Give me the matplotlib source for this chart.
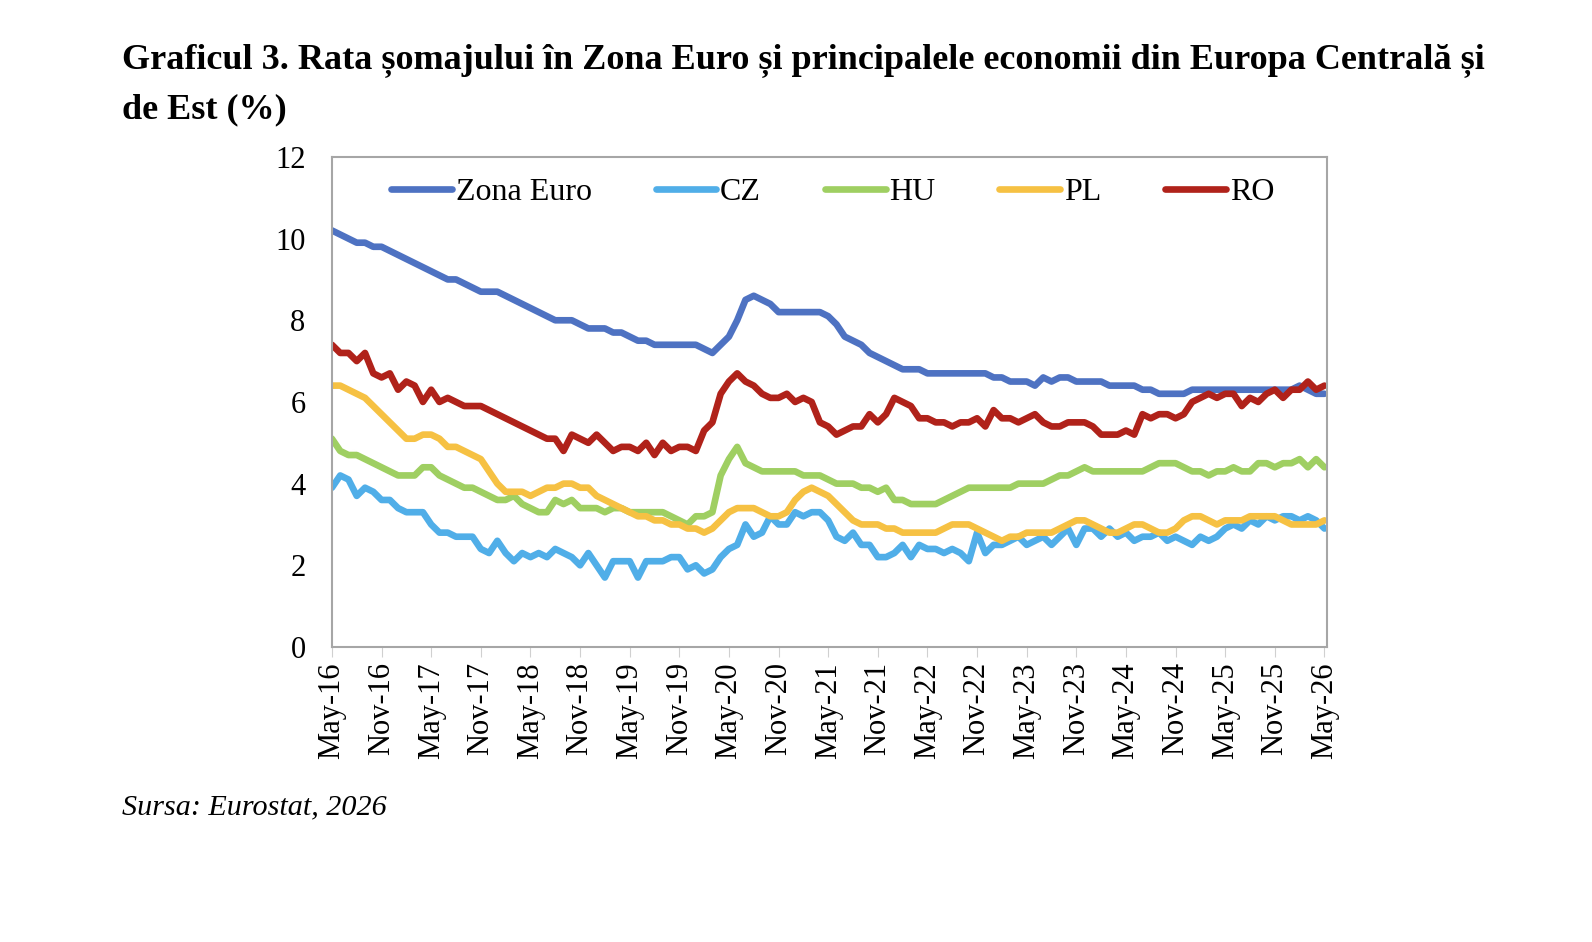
import numpy as np
import pandas as pd
import matplotlib
matplotlib.use("Agg")
import matplotlib.pyplot as plt

plt.rcParams['font.family'] = ['Liberation Serif', 'DejaVu Serif']

# lunar, mai 2016 - mai 2026
luni = pd.date_range('2016-05-01', periods=121, freq='MS').strftime('%b-%y').tolist()

zona_euro = [10.2, 10.1, 10.0, 9.9, 9.9, 9.8, 9.8, 9.7, 9.6, 9.5, 9.4, 9.3, 9.2, 9.1, 9.0, 9.0,
             8.9, 8.8, 8.7, 8.7, 8.7, 8.6, 8.5, 8.4, 8.3, 8.2, 8.1, 8.0, 8.0, 8.0, 7.9, 7.8,
             7.8, 7.8, 7.7, 7.7, 7.6, 7.5, 7.5, 7.4, 7.4, 7.4, 7.4, 7.4, 7.4, 7.3, 7.2, 7.4,
             7.6, 8.0, 8.5, 8.6, 8.5, 8.4, 8.2, 8.2, 8.2, 8.2, 8.2, 8.2, 8.1, 7.9, 7.6, 7.5,
             7.4, 7.2, 7.1, 7.0, 6.9, 6.8, 6.8, 6.8, 6.7, 6.7, 6.7, 6.7, 6.7, 6.7, 6.7, 6.7,
             6.6, 6.6, 6.5, 6.5, 6.5, 6.4, 6.6, 6.5, 6.6, 6.6, 6.5, 6.5, 6.5, 6.5, 6.4, 6.4,
             6.4, 6.4, 6.3, 6.3, 6.2, 6.2, 6.2, 6.2, 6.3, 6.3, 6.3, 6.3, 6.3, 6.3, 6.3, 6.3,
             6.3, 6.3, 6.3, 6.3, 6.3, 6.4, 6.3, 6.2, 6.2]

cz = [3.9, 4.2, 4.1, 3.7, 3.9, 3.8, 3.6, 3.6, 3.4, 3.3, 3.3, 3.3, 3.0, 2.8, 2.8, 2.7,
      2.7, 2.7, 2.4, 2.3, 2.6, 2.3, 2.1, 2.3, 2.2, 2.3, 2.2, 2.4, 2.3, 2.2, 2.0, 2.3,
      2.0, 1.7, 2.1, 2.1, 2.1, 1.7, 2.1, 2.1, 2.1, 2.2, 2.2, 1.9, 2.0, 1.8, 1.9, 2.2,
      2.4, 2.5, 3.0, 2.7, 2.8, 3.2, 3.0, 3.0, 3.3, 3.2, 3.3, 3.3, 3.1, 2.7, 2.6, 2.8,
      2.5, 2.5, 2.2, 2.2, 2.3, 2.5, 2.2, 2.5, 2.4, 2.4, 2.3, 2.4, 2.3, 2.1, 2.8, 2.3,
      2.5, 2.5, 2.6, 2.7, 2.5, 2.6, 2.7, 2.5, 2.7, 2.9, 2.5, 2.9, 2.9, 2.7, 2.9, 2.7,
      2.8, 2.6, 2.7, 2.7, 2.8, 2.6, 2.7, 2.6, 2.5, 2.7, 2.6, 2.7, 2.9, 3.0, 2.9, 3.1,
      3.0, 3.2, 3.1, 3.2, 3.2, 3.1, 3.2, 3.1, 2.9]

hu = [5.1, 4.8, 4.7, 4.7, 4.6, 4.5, 4.4, 4.3, 4.2, 4.2, 4.2, 4.4, 4.4, 4.2, 4.1, 4.0,
      3.9, 3.9, 3.8, 3.7, 3.6, 3.6, 3.7, 3.5, 3.4, 3.3, 3.3, 3.6, 3.5, 3.6, 3.4, 3.4,
      3.4, 3.3, 3.4, 3.4, 3.3, 3.3, 3.3, 3.3, 3.3, 3.2, 3.1, 3.0, 3.2, 3.2, 3.3, 4.2,
      4.6, 4.9, 4.5, 4.4, 4.3, 4.3, 4.3, 4.3, 4.3, 4.2, 4.2, 4.2, 4.1, 4.0, 4.0, 4.0,
      3.9, 3.9, 3.8, 3.9, 3.6, 3.6, 3.5, 3.5, 3.5, 3.5, 3.6, 3.7, 3.8, 3.9, 3.9, 3.9,
      3.9, 3.9, 3.9, 4.0, 4.0, 4.0, 4.0, 4.1, 4.2, 4.2, 4.3, 4.4, 4.3, 4.3, 4.3, 4.3,
      4.3, 4.3, 4.3, 4.4, 4.5, 4.5, 4.5, 4.4, 4.3, 4.3, 4.2, 4.3, 4.3, 4.4, 4.3, 4.3,
      4.5, 4.5, 4.4, 4.5, 4.5, 4.6, 4.4, 4.6, 4.4]

pl = [6.4, 6.4, 6.3, 6.2, 6.1, 5.9, 5.7, 5.5, 5.3, 5.1, 5.1, 5.2, 5.2, 5.1, 4.9, 4.9,
      4.8, 4.7, 4.6, 4.3, 4.0, 3.8, 3.8, 3.8, 3.7, 3.8, 3.9, 3.9, 4.0, 4.0, 3.9, 3.9,
      3.7, 3.6, 3.5, 3.4, 3.3, 3.2, 3.2, 3.1, 3.1, 3.0, 3.0, 2.9, 2.9, 2.8, 2.9, 3.1,
      3.3, 3.4, 3.4, 3.4, 3.3, 3.2, 3.2, 3.3, 3.6, 3.8, 3.9, 3.8, 3.7, 3.5, 3.3, 3.1,
      3.0, 3.0, 3.0, 2.9, 2.9, 2.8, 2.8, 2.8, 2.8, 2.8, 2.9, 3.0, 3.0, 3.0, 2.9, 2.8,
      2.7, 2.6, 2.7, 2.7, 2.8, 2.8, 2.8, 2.8, 2.9, 3.0, 3.1, 3.1, 3.0, 2.9, 2.8, 2.8,
      2.9, 3.0, 3.0, 2.9, 2.8, 2.8, 2.9, 3.1, 3.2, 3.2, 3.1, 3.0, 3.1, 3.1, 3.1, 3.2,
      3.2, 3.2, 3.2, 3.1, 3.0, 3.0, 3.0, 3.0, 3.1]

ro = [7.4, 7.2, 7.2, 7.0, 7.2, 6.7, 6.6, 6.7, 6.3, 6.5, 6.4, 6.0, 6.3, 6.0, 6.1, 6.0,
      5.9, 5.9, 5.9, 5.8, 5.7, 5.6, 5.5, 5.4, 5.3, 5.2, 5.1, 5.1, 4.8, 5.2, 5.1, 5.0,
      5.2, 5.0, 4.8, 4.9, 4.9, 4.8, 5.0, 4.7, 5.0, 4.8, 4.9, 4.9, 4.8, 5.3, 5.5, 6.2,
      6.5, 6.7, 6.5, 6.4, 6.2, 6.1, 6.1, 6.2, 6.0, 6.1, 6.0, 5.5, 5.4, 5.2, 5.3, 5.4,
      5.4, 5.7, 5.5, 5.7, 6.1, 6.0, 5.9, 5.6, 5.6, 5.5, 5.5, 5.4, 5.5, 5.5, 5.6, 5.4,
      5.8, 5.6, 5.6, 5.5, 5.6, 5.7, 5.5, 5.4, 5.4, 5.5, 5.5, 5.5, 5.4, 5.2, 5.2, 5.2,
      5.3, 5.2, 5.7, 5.6, 5.7, 5.7, 5.6, 5.7, 6.0, 6.1, 6.2, 6.1, 6.2, 6.2, 5.9, 6.1,
      6.0, 6.2, 6.3, 6.1, 6.3, 6.3, 6.5, 6.3, 6.4]

serii = [('Zona Euro', zona_euro, '#4E72C2'),
         ('CZ', cz, '#50AEE8'),
         ('HU', hu, '#9FCF62'),
         ('PL', pl, '#F6C143'),
         ('RO', ro, '#B0221A')]

fig = plt.figure(figsize=(15.92, 9.42), dpi=100)
ax = fig.add_axes([0.2085, 0.3132, 0.625, 0.5202])

x = np.arange(len(luni))
for nume, val, cul in serii:
    ax.plot(x, val, color=cul, lw=4.8, label=nume, solid_joinstyle='round', solid_capstyle='round')

ax.set_xlim(0, 120.3)
ax.set_ylim(0, 12)
ax.set_yticks(range(0, 13, 2))
ax.set_xticks(x[::6])
ax.set_xticklabels(luni[::6], rotation=90, fontsize=22)
ax.tick_params(axis='y', length=0, pad=19, labelsize=22)
ax.tick_params(axis='x', length=7, color='#D0D0D0', pad=4)
for s in ax.spines.values():
    s.set_color('#A6A6A6')
    s.set_linewidth(1.5)

ax.legend(loc='center', bbox_to_anchor=(0.523, 0.796), bbox_transform=fig.transFigure,
          ncol=5, frameon=False, fontsize=23, handlelength=1.9, handletextpad=0.12,
          columnspacing=2.0)

fig.text(0.0765, 0.936, 'Graficul 3. Rata șomajului în Zona Euro și principalele economii din Europa Centrală și',
         fontsize=26, fontweight='bold', va='center', ha='left')
fig.text(0.0765, 0.883, 'de Est (%)', fontsize=26, fontweight='bold', va='center', ha='left')
fig.text(0.0765, 0.143, 'Sursa: Eurostat, 2026', fontsize=21.7, style='italic', va='center', ha='left')

fig.savefig('out.png', dpi=100)
